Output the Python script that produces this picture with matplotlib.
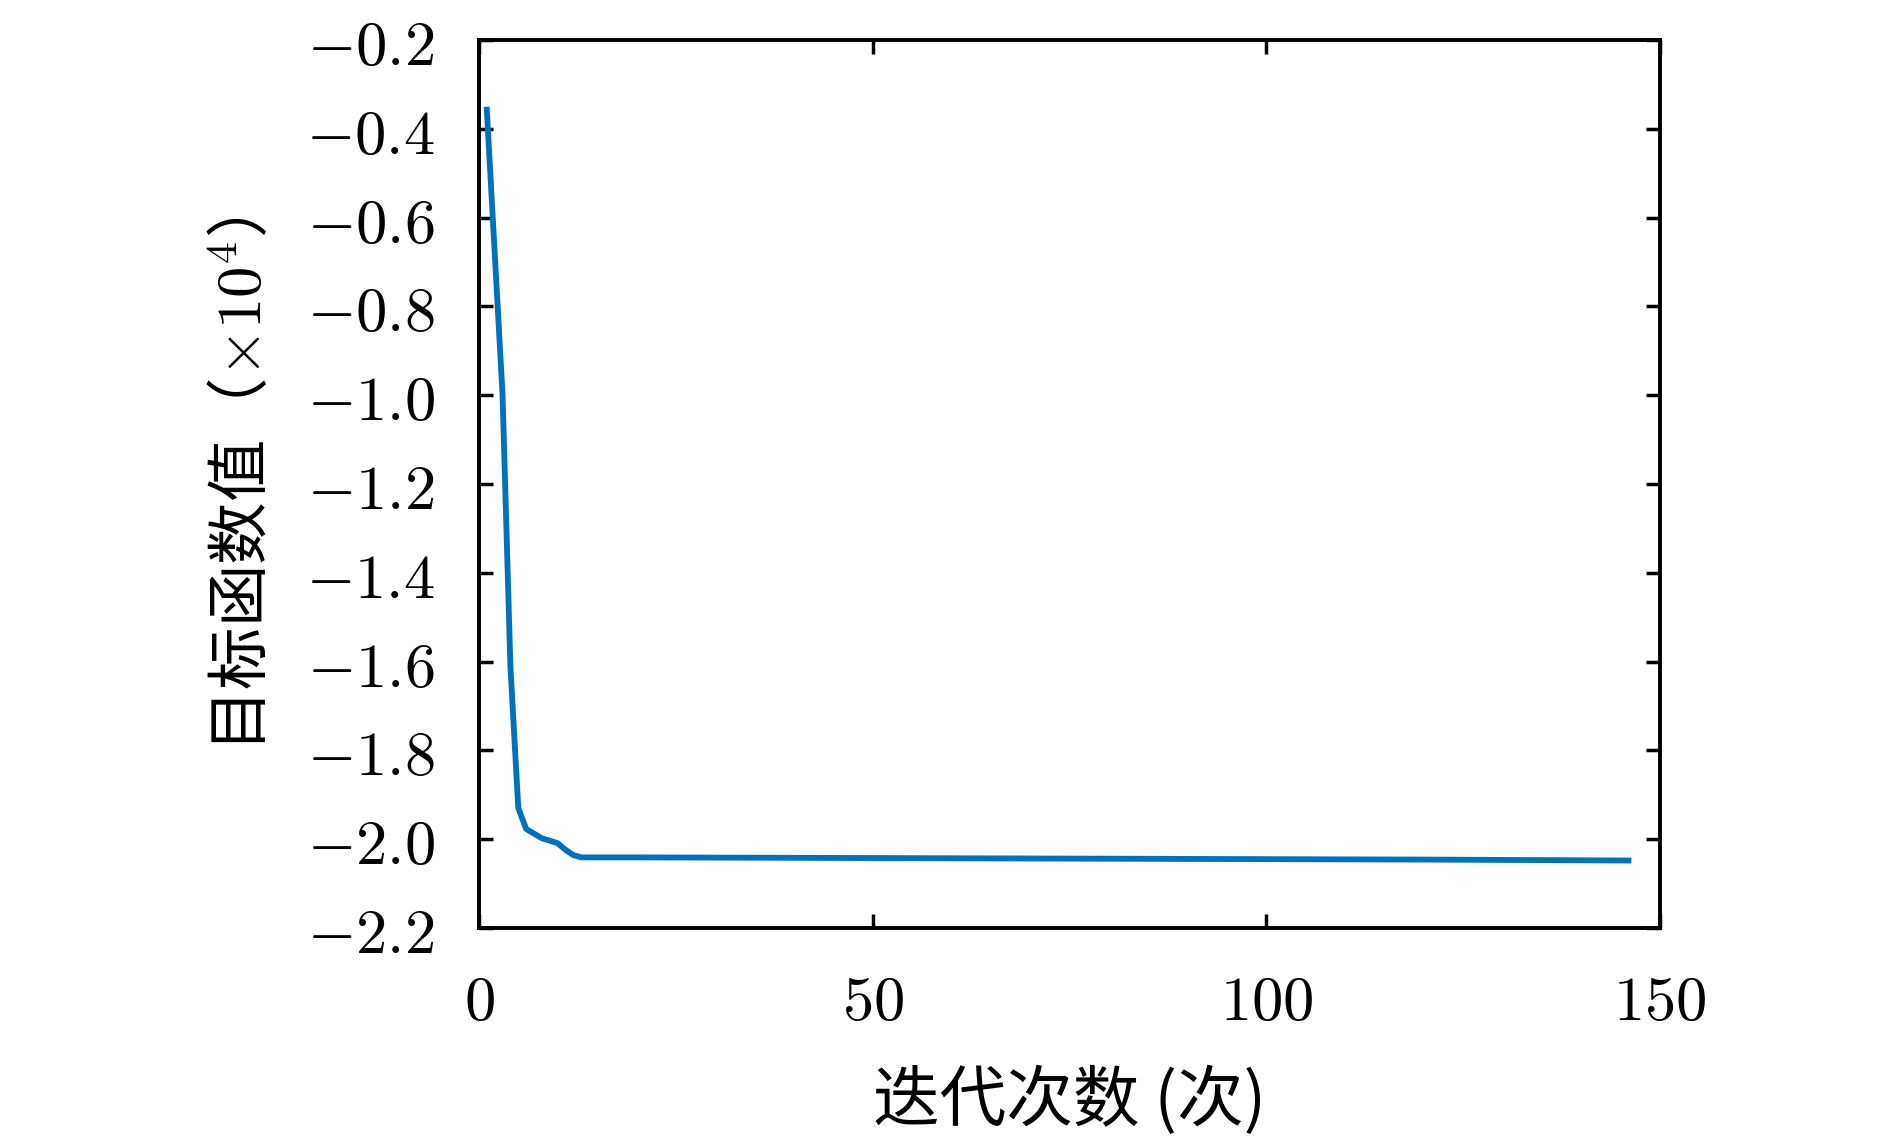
import matplotlib
matplotlib.use('Agg')
import matplotlib.pyplot as plt
from matplotlib.ticker import FuncFormatter

# datos (iteracion, valor objetivo x1e4)
iteraciones = [1, 3, 4, 5, 6, 8, 10, 11, 12, 13, 20, 40, 60, 80, 100, 120, 146]
objetivo = [-0.357, -0.999, -1.612, -1.930, -1.977, -1.998, -2.009, -2.024,
            -2.036, -2.041, -2.041, -2.042, -2.043, -2.044, -2.045, -2.046, -2.048]

xticks = [0, 50, 100, 150]
yticks = [-2.2, -2.0, -1.8, -1.6, -1.4, -1.2, -1.0, -0.8, -0.6, -0.4, -0.2]

plt.rcParams['mathtext.fontset'] = 'cm'
plt.rcParams['font.family'] = ['Noto Sans CJK SC', 'DejaVu Sans']

fig = plt.figure(figsize=(18.9, 11.41), dpi=100)
ax = fig.add_axes([0.2534, 0.1867, 0.6249, 0.7783])

ax.plot(iteraciones, objetivo, color='#0072BD', linewidth=4.2)

ax.set_xlim(0, 150)
ax.set_ylim(-2.2, -0.2)
ax.set_xticks(xticks)
ax.set_yticks(yticks)
ax.xaxis.set_major_formatter(FuncFormatter(lambda v, p: f'${v:.0f}$'))
ax.yaxis.set_major_formatter(FuncFormatter(lambda v, p: f'${v:.1f}$'))

ax.tick_params(direction='in', length=10, width=2.5, labelsize=45,
               top=True, right=True)
ax.tick_params(axis='x', pad=30)
ax.tick_params(axis='y', pad=32)
for s in ax.spines.values():
    s.set_linewidth(2.8)

ax.set_xlabel('迭代次数 (次)', fontsize=48, labelpad=24)
ax.set_ylabel('目标函数值（$\\times10^4$）', fontsize=45, labelpad=22)

fig.savefig('out.png', dpi=100)
